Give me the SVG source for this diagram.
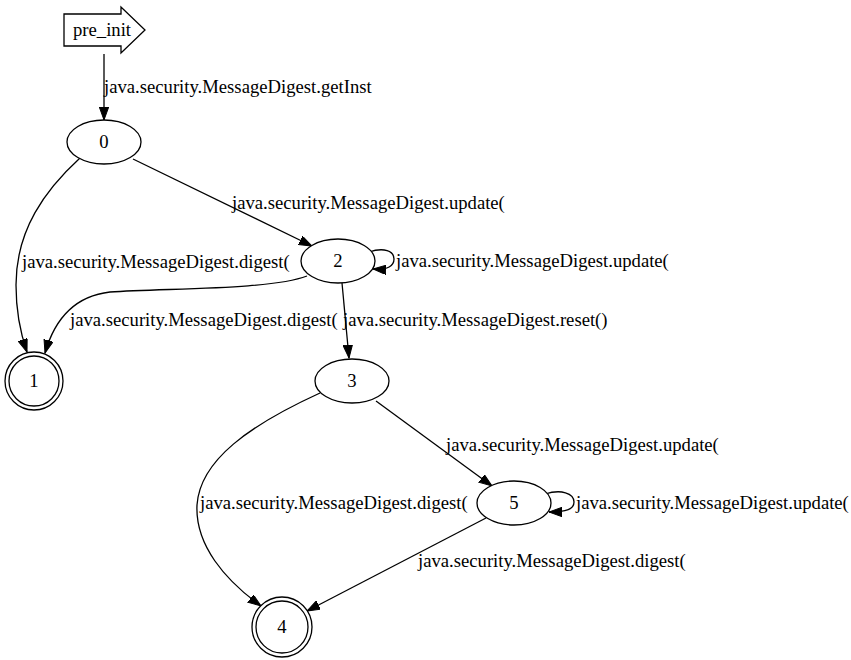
<svg xmlns="http://www.w3.org/2000/svg" width="851" height="660" viewBox="0 0 851 660">
<style>
.n{fill:#fff;stroke:#000;stroke-width:1.3}
.e{fill:none;stroke:#000;stroke-width:1.3;marker-end:url(#ah)}
.c{text-anchor:middle}
</style>
<defs>
<marker id="ah" markerUnits="userSpaceOnUse" markerWidth="14" markerHeight="10" refX="13" refY="4.7" orient="auto">
<path d="M0,0 L13,4.7 L0,9.4 z" fill="#000" stroke="#000" stroke-width="1"/>
</marker>
</defs>
<rect width="851" height="660" fill="#fff"/>
<g font-family="Liberation Serif, serif" font-size="18.67" fill="#000">
<g id="edges">
<path class="e" d="M104,54 L104,120"/>
<text x="104" y="93">java.security.MessageDigest.getInst</text>
<path class="e" d="M133,159 L312,246"/>
<text x="232" y="209">java.security.MessageDigest.update(</text>
<path class="e" d="M80,158 C45,190 16,230 16,285 C16,312 20,332 27,352"/>
<text x="22" y="268">java.security.MessageDigest.digest(</text>
<path class="e" d="M307,276 C270,290 170,288 110,292 C75,296 55,318 45,353"/>
<text x="70" y="326">java.security.MessageDigest.digest(</text>
<path class="e" d="M342,283 L349,358"/>
<text x="343" y="326">java.security.MessageDigest.reset()</text>
<path class="e" d="M369,252 C384,247 394,251 394,259 C394,266 388,270 373,269"/>
<text x="396" y="267">java.security.MessageDigest.update(</text>
<path class="e" d="M376,401 L492,486"/>
<text x="446" y="451">java.security.MessageDigest.update(</text>
<path class="e" d="M320,393 C250,425 200,460 197,505 C195,545 225,580 261,606"/>
<text x="200" y="509">java.security.MessageDigest.digest(</text>
<path class="e" d="M486,518 L307,611"/>
<text x="418" y="567">java.security.MessageDigest.digest(</text>
<path class="e" d="M545,494 C561,489 574,493 574,502 C574,509 567,512 549,512"/>
<text x="576" y="509">java.security.MessageDigest.update(</text>
</g>
<g id="pre_init">
<polygon class="n" points="64,14 121,14 121,7 145,30 121,53 121,46 64,46"/>
<text class="c" x="102" y="36">pre_init</text>
</g>
<g id="node0">
<ellipse class="n" cx="104" cy="142" rx="37" ry="22"/>
<text class="c" x="104" y="148">0</text>
</g>
<g id="node1">
<circle class="n" cx="34" cy="381" r="29"/>
<circle class="n" cx="34" cy="381" r="25"/>
<text class="c" x="34" y="387">1</text>
</g>
<g id="node2">
<ellipse class="n" cx="338" cy="261" rx="37" ry="22"/>
<text class="c" x="338" y="267">2</text>
</g>
<g id="node3">
<ellipse class="n" cx="352" cy="381" rx="37" ry="22"/>
<text class="c" x="352" y="387">3</text>
</g>
<g id="node4">
<circle class="n" cx="282" cy="627" r="30"/>
<circle class="n" cx="282" cy="627" r="26"/>
<text class="c" x="282" y="633">4</text>
</g>
<g id="node5">
<ellipse class="n" cx="514" cy="503" rx="37" ry="22"/>
<text class="c" x="514" y="509">5</text>
</g>
</g>
</svg>
